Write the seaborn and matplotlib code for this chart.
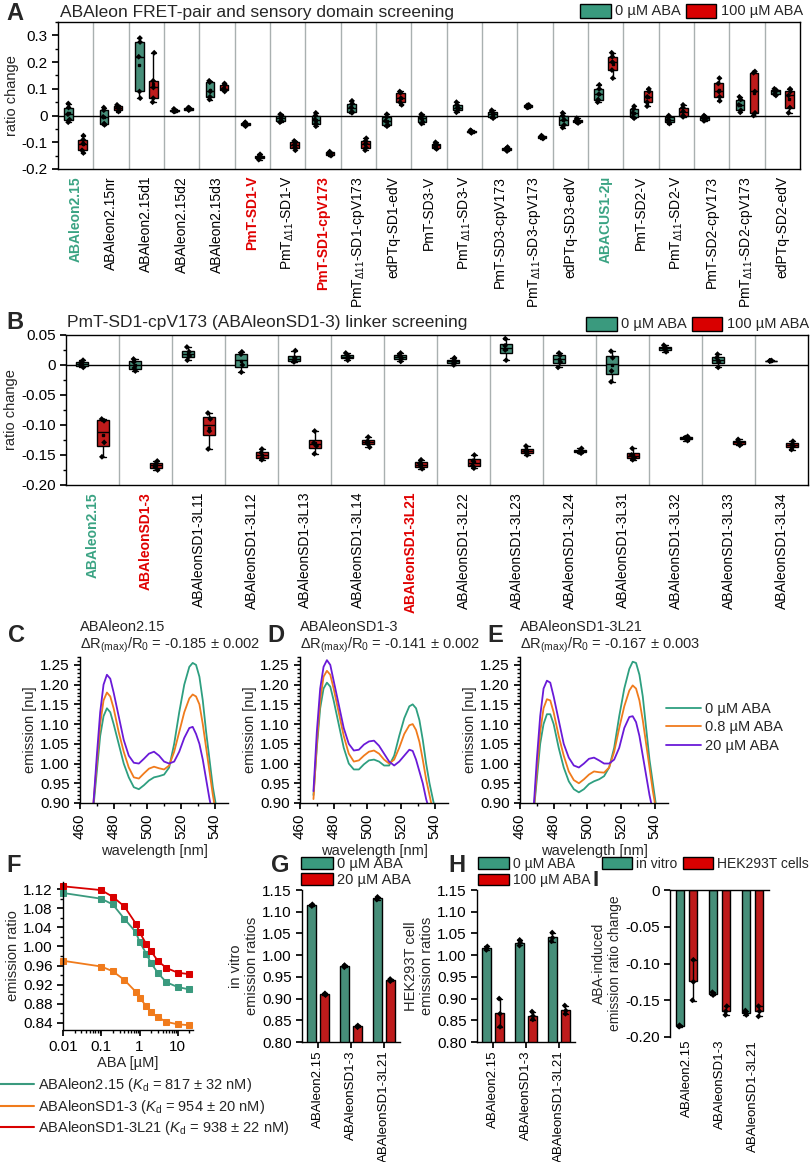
import numpy as np
import pandas as pd
import matplotlib.pyplot as plt
import seaborn as sns
from matplotlib.patches import Patch
from matplotlib.lines import Line2D
from matplotlib.ticker import MultipleLocator, FuncFormatter

# =========================
# STYLE
# =========================
sns.set_theme(style="ticks")
plt.rcParams["font.family"] = ["Liberation Sans", "DejaVu Sans"]
plt.rcParams["mathtext.fontset"] = "custom"
plt.rcParams["mathtext.rm"] = "Liberation Sans"
plt.rcParams["mathtext.it"] = "Liberation Sans:italic"
plt.rcParams["mathtext.bf"] = "Liberation Sans:bold"
plt.rcParams["axes.unicode_minus"] = False
plt.rcParams["axes.edgecolor"] = "black"
plt.rcParams["axes.linewidth"] = 1.0
plt.rcParams["xtick.color"] = "black"
plt.rcParams["ytick.color"] = "black"
plt.rcParams["xtick.major.size"] = 4
plt.rcParams["ytick.major.size"] = 4
plt.rcParams["xtick.minor.size"] = 2
plt.rcParams["ytick.minor.size"] = 2

GREEN = "#3a9a7e"
RED = "#d90000"
LBL_GREEN = "#3aa383"
LBL_RED = "#e00000"
SP_GREEN = "#2e9f80"
SP_ORANGE = "#f07b1c"
SP_PURPLE = "#6a1ad8"

# =========================
# DATA
# =========================
a_names = ["ABAleon2.15", "ABAleon2.15nr", "ABAleon2.15d1", "ABAleon2.15d2", "ABAleon2.15d3",
           "PmT-SD1-V", r"PmT$_{\Delta11}$-SD1-V", "PmT-SD1-cpV173", r"PmT$_{\Delta11}$-SD1-cpV173",
           "edPTq-SD1-edV", "PmT-SD3-V", r"PmT$_{\Delta11}$-SD3-V", "PmT-SD3-cpV173",
           r"PmT$_{\Delta11}$-SD3-cpV173", "edPTq-SD3-edV", "ABACUS1-2µ", "PmT-SD2-V",
           r"PmT$_{\Delta11}$-SD2-V", "PmT-SD2-cpV173", r"PmT$_{\Delta11}$-SD2-cpV173", "edPTq-SD2-edV"]
a_green_idx = [0, 15]
a_red_idx = [5, 7]

a_ctrl = [[0.045, 0.03, 0.005, -0.015, -0.025], [0.03, 0.02, -0.005, -0.03, -0.035],
          [0.29, 0.275, 0.22, 0.09, 0.065], [0.025, 0.02, 0.018, 0.016, 0.015],
          [0.13, 0.125, 0.09, 0.07, 0.06], [-0.025, -0.028, -0.032, -0.035, -0.04],
          [0.005, 0.0, -0.01, -0.02, -0.025], [0.01, 0.0, -0.015, -0.03, -0.04],
          [0.055, 0.045, 0.03, 0.015, 0.01], [0.005, -0.005, -0.02, -0.035, -0.04],
          [0.005, 0.0, -0.01, -0.025, -0.03], [0.05, 0.04, 0.03, 0.02, 0.012],
          [0.02, 0.015, 0.005, -0.005, -0.01], [0.04, 0.038, 0.035, 0.032, 0.03],
          [0.01, 0.0, -0.015, -0.035, -0.045], [0.115, 0.1, 0.08, 0.06, 0.05],
          [0.035, 0.025, 0.01, -0.005, -0.01], [0.0, -0.005, -0.015, -0.025, -0.03],
          [0.0, -0.005, -0.01, -0.015, -0.02], [0.07, 0.06, 0.04, 0.02, 0.012],
          [0.1, 0.095, 0.09, 0.08, 0.075]]
a_aba = [[-0.075, -0.09, -0.105, -0.13, -0.14], [0.04, 0.035, 0.03, 0.02, 0.015],
         [0.235, 0.13, 0.105, 0.065, 0.05], [0.03, 0.028, 0.025, 0.022, 0.02],
         [0.12, 0.115, 0.1, 0.095, 0.09], [-0.145, -0.15, -0.155, -0.16, -0.165],
         [-0.095, -0.1, -0.11, -0.12, -0.13], [-0.135, -0.138, -0.142, -0.146, -0.15],
         [-0.085, -0.095, -0.105, -0.12, -0.13], [0.09, 0.085, 0.065, 0.05, 0.04],
         [-0.1, -0.105, -0.11, -0.12, -0.125], [-0.055, -0.057, -0.06, -0.062, -0.065],
         [-0.118, -0.122, -0.125, -0.13, -0.133], [-0.075, -0.078, -0.08, -0.083, -0.086],
         [-0.01, -0.015, -0.02, -0.025, -0.028], [0.235, 0.22, 0.2, 0.17, 0.14],
         [0.1, 0.09, 0.07, 0.05, 0.035], [0.04, 0.03, 0.015, 0.0, -0.005],
         [0.14, 0.12, 0.09, 0.07, 0.055], [0.165, 0.16, 0.09, 0.01, 0.0],
         [0.1, 0.09, 0.075, 0.03, 0.01]]

b_names = ["ABAleon2.15", "ABAleonSD1-3", "ABAleonSD1-3L11", "ABAleonSD1-3L12", "ABAleonSD1-3L13",
           "ABAleonSD1-3L14", "ABAleonSD1-3L21", "ABAleonSD1-3L22", "ABAleonSD1-3L23",
           "ABAleonSD1-3L24", "ABAleonSD1-3L31", "ABAleonSD1-3L32", "ABAleonSD1-3L33", "ABAleonSD1-3L34"]
b_green_idx = [0]
b_red_idx = [1, 6]

b_ctrl = [[0.008, 0.004, 0.0, -0.004], [0.01, 0.005, -0.005, -0.01], [0.03, 0.022, 0.015, 0.008],
          [0.022, 0.018, 0.0, -0.012], [0.024, 0.012, 0.008, 0.005], [0.02, 0.015, 0.012, 0.008],
          [0.02, 0.016, 0.012, 0.006], [0.012, 0.008, 0.004, 0.0], [0.044, 0.032, 0.025, 0.008],
          [0.02, 0.016, 0.005, -0.004], [0.023, 0.012, -0.01, -0.028], [0.033, 0.029, 0.026, 0.022],
          [0.018, 0.012, 0.005, -0.004], [0.007, 0.0065, 0.0075, 0.007]]
b_aba = [[-0.09, -0.093, -0.129, -0.153], [-0.16, -0.165, -0.17, -0.175], [-0.08, -0.09, -0.11, -0.14],
         [-0.14, -0.146, -0.155, -0.158], [-0.11, -0.13, -0.135, -0.148], [-0.12, -0.127, -0.131, -0.137],
         [-0.158, -0.164, -0.168, -0.173], [-0.15, -0.16, -0.168, -0.172], [-0.135, -0.142, -0.146, -0.15],
         [-0.139, -0.142, -0.145, -0.147], [-0.139, -0.15, -0.155, -0.158], [-0.119, -0.121, -0.123, -0.126],
         [-0.124, -0.127, -0.13, -0.134], [-0.127, -0.132, -0.136, -0.141]]

# emission spectra (C, D, E)
wl = [468, 470, 472, 474, 476, 478, 480, 483, 486, 489, 492, 495, 498, 501, 504,
      507, 510, 513, 516, 519, 522, 525, 527, 529, 531, 533, 535, 537, 539, 541]
c_0 = [0.89, 0.98, 1.07, 1.12, 1.14, 1.13, 1.10, 1.05, 1.00, 0.965, 0.94, 0.935, 0.945, 0.957, 0.965,
       0.968, 0.972, 0.99, 1.05, 1.13, 1.20, 1.245, 1.255, 1.25, 1.22, 1.16, 1.08, 1.01, 0.94, 0.89]
c_08 = [0.90, 1.00, 1.10, 1.16, 1.18, 1.17, 1.14, 1.08, 1.03, 0.99, 0.965, 0.962, 0.975, 0.987, 0.992,
        0.988, 0.985, 0.995, 1.03, 1.08, 1.13, 1.165, 1.175, 1.17, 1.15, 1.10, 1.04, 0.98, 0.92, 0.87]
c_20 = [0.90, 1.02, 1.13, 1.20, 1.225, 1.215, 1.18, 1.12, 1.06, 1.02, 1.002, 1.0, 1.012, 1.025, 1.03,
        1.02, 1.005, 1.0, 1.005, 1.03, 1.065, 1.09, 1.093, 1.075, 1.05, 1.01, 0.96, 0.91, 0.87, 0.85]
d_0 = [0.92, 1.04, 1.14, 1.19, 1.205, 1.195, 1.16, 1.10, 1.04, 1.0, 0.985, 0.985, 0.998, 1.008, 1.01,
       1.005, 0.995, 0.995, 1.02, 1.07, 1.115, 1.145, 1.15, 1.14, 1.11, 1.06, 1.0, 0.95, 0.91, 0.87]
d_08 = [0.91, 1.05, 1.16, 1.22, 1.235, 1.225, 1.19, 1.13, 1.07, 1.025, 1.005, 1.008, 1.02, 1.03, 1.033,
        1.025, 1.01, 1.0, 1.01, 1.04, 1.075, 1.097, 1.10, 1.085, 1.055, 1.01, 0.96, 0.92, 0.88, 0.85]
d_20 = [0.93, 1.08, 1.19, 1.245, 1.262, 1.25, 1.21, 1.15, 1.09, 1.05, 1.033, 1.035, 1.048, 1.056, 1.058,
        1.045, 1.025, 1.005, 0.995, 1.005, 1.02, 1.035, 1.032, 1.01, 0.98, 0.95, 0.91, 0.88, 0.86, 0.85]
e_0 = [0.87, 0.96, 1.05, 1.10, 1.125, 1.125, 1.10, 1.04, 0.99, 0.955, 0.935, 0.927, 0.935, 0.948, 0.955,
       0.96, 0.968, 0.99, 1.04, 1.12, 1.19, 1.24, 1.258, 1.255, 1.225, 1.17, 1.09, 1.01, 0.95, 0.89]
e_08 = [0.87, 0.98, 1.08, 1.14, 1.163, 1.16, 1.13, 1.07, 1.02, 0.98, 0.958, 0.95, 0.96, 0.972, 0.98,
        0.978, 0.977, 0.99, 1.03, 1.09, 1.145, 1.185, 1.198, 1.19, 1.16, 1.11, 1.05, 0.99, 0.93, 0.88]
e_20 = [0.88, 1.01, 1.12, 1.19, 1.21, 1.205, 1.17, 1.11, 1.05, 1.015, 0.995, 0.99, 1.0, 1.012, 1.015,
        1.008, 1.0, 1.0, 1.01, 1.04, 1.09, 1.118, 1.12, 1.105, 1.07, 1.02, 0.97, 0.92, 0.88, 0.85]
spec_labels = ["0 µM ABA", "0.8 µM ABA", "20 µM ABA"]

# titration (F)
f_conc = [0.01, 0.1, 0.2, 0.4, 0.8, 1, 1.5, 2, 3, 5, 10, 20]
f_215 = [1.112, 1.100, 1.088, 1.058, 1.030, 1.010, 0.985, 0.965, 0.945, 0.925, 0.915, 0.910]
f_sd13 = [0.970, 0.958, 0.948, 0.930, 0.905, 0.893, 0.875, 0.862, 0.852, 0.842, 0.837, 0.835]
f_l21 = [1.126, 1.118, 1.104, 1.084, 1.048, 1.030, 1.005, 0.990, 0.970, 0.955, 0.945, 0.942]
f_labels = [r"ABAleon2.15 ($K_\mathrm{d}$ = 817 ± 32 nM)",
            r"ABAleonSD1-3 ($K_\mathrm{d}$ = 954 ± 20 nM)",
            r"ABAleonSD1-3L21 ($K_\mathrm{d}$ = 938 ± 22 nM)"]

# bar panels (G, H, I)
g_groups = ["ABAleon2.15", "ABAleonSD1-3", "ABAleonSD1-3L21"]
g_ctrl = [[1.113, 1.115, 1.117], [0.972, 0.975, 0.977], [1.128, 1.131, 1.134]]
g_aba = [[0.908, 0.910, 0.912], [0.834, 0.836, 0.838], [0.940, 0.942, 0.945]]
h_ctrl = [[1.012, 1.016, 1.020], [1.022, 1.030, 1.035], [1.032, 1.040, 1.052]]
h_aba = [[0.835, 0.865, 0.900], [0.852, 0.860, 0.870], [0.865, 0.872, 0.884]]
i_vitro = [[-0.184, -0.185, -0.186], [-0.139, -0.141, -0.143], [-0.164, -0.167, -0.170]]
i_hek = [[-0.095, -0.125, -0.150], [-0.158, -0.165, -0.170], [-0.158, -0.165, -0.172]]


def long_df(ctrl, aba, lab0, lab1):
    rows = []
    for i, (c, a) in enumerate(zip(ctrl, aba)):
        for v in c:
            rows.append((i, lab0, v))
        for v in a:
            rows.append((i, lab1, v))
    return pd.DataFrame(rows, columns=["idx", "cond", "value"])


# =========================
# FIGURE
# =========================
W, H = 810, 1162
fig = plt.figure(figsize=(W / 100, H / 100), dpi=100)


def axes_px(l, t, r, b):
    return fig.add_axes([l / W, 1 - b / H, (r - l) / W, (b - t) / H])


def ftext(x, y, s, **kw):
    kw.setdefault("va", "center")
    fig.text(x / W, 1 - y / H, s, **kw)


def zero_fmt(dec):
    return FuncFormatter(lambda v, p: "0" if abs(v) < 1e-9 else f"{v:.{dec}f}")


def screening_panel(ax, df, names, green_idx, red_idx, ylim, major, minor, dec):
    pal = {"0 µM ABA": GREEN, "100 µM ABA": RED}
    for i in range(1, len(names)):
        ax.axvline(i - 0.5, color="#a9b0b0", lw=1, zorder=0)
    ax.axhline(0, color="black", lw=1, zorder=1)
    sns.boxplot(data=df, x="idx", y="value", hue="cond", palette=pal, whis=(0, 100),
                width=0.8, gap=0.4, showfliers=False, linecolor="black", linewidth=1,
                showmeans=True, meanprops=dict(marker="s", markersize=1.5, markerfacecolor="black",
                                               markeredgecolor="black"),
                ax=ax, legend=False)
    sns.stripplot(data=df, x="idx", y="value", hue="cond", dodge=True,
                  palette={"0 µM ABA": "black", "100 µM ABA": "black"}, marker="D", size=3,
                  jitter=0.06, ax=ax, legend=False, zorder=5)
    ax.set_xlim(-0.5, len(names) - 0.5)
    ax.set_ylim(*ylim)
    ax.set_yticks(major)
    ax.yaxis.set_minor_locator(MultipleLocator(minor))
    ax.yaxis.set_major_formatter(zero_fmt(dec))
    ax.set_xticks(range(len(names)))
    ax.set_xticklabels(names, rotation=90, fontsize=10)
    ax.tick_params(axis="x", length=0, pad=5)
    ax.tick_params(axis="y", labelsize=11)
    for i, t in enumerate(ax.get_xticklabels()):
        if i in green_idx:
            t.set_color(LBL_GREEN)
            t.set_fontweight("bold")
        elif i in red_idx:
            t.set_color(LBL_RED)
            t.set_fontweight("bold")
    ax.set_xlabel("")
    ax.set_ylabel("ratio change", fontsize=10.5, labelpad=2)


leg_handles = [Patch(facecolor=GREEN, edgecolor="black", label="0 µM ABA"),
               Patch(facecolor=RED, edgecolor="black", label="100 µM ABA")]
leg_kw = dict(frameon=False, fontsize=10.5, handlelength=2.1, handleheight=1.1, columnspacing=0.35,
              handletextpad=0.3, borderpad=0, borderaxespad=0)

# ---- A ----
axA = axes_px(58, 22, 800, 169)
screening_panel(axA, long_df(a_ctrl, a_aba, "0 µM ABA", "100 µM ABA"), a_names,
                a_green_idx, a_red_idx, (-0.2, 0.35), [-0.2, -0.1, 0, 0.1, 0.2, 0.3], 0.05, 1)
ftext(6, 13, "A", fontsize=17, fontweight="bold")
ftext(60, 13, "ABAleon FRET-pair and sensory domain screening", fontsize=12.5)
fig.legend(handles=leg_handles, loc="center right", bbox_to_anchor=(803 / W, 1 - 11 / H), ncol=2,
           **leg_kw)

# ---- B ----
axB = axes_px(66, 335, 808, 485)
screening_panel(axB, long_df(b_ctrl, b_aba, "0 µM ABA", "100 µM ABA"), b_names,
                b_green_idx, b_red_idx, (-0.2, 0.05), [-0.2, -0.15, -0.1, -0.05, 0, 0.05], 0.025, 2)
ftext(6, 323, "B", fontsize=17, fontweight="bold")
ftext(67, 323, "PmT-SD1-cpV173 (ABAleonSD1-3) linker screening", fontsize=12.5)
fig.legend(handles=leg_handles, loc="center right", bbox_to_anchor=(809 / W, 1 - 324 / H), ncol=2,
           **leg_kw)

# ---- C, D, E ----
spec_sets = [("C", 80, "ABAleon2.15", "-0.185 ± 0.002", [c_0, c_08, c_20]),
             ("D", 300, "ABAleonSD1-3", "-0.141 ± 0.002", [d_0, d_08, d_20]),
             ("E", 520, "ABAleonSD1-3L21", "-0.167 ± 0.003", [e_0, e_08, e_20])]
for letter, left, name, dr, curves in spec_sets:
    ax = axes_px(left, 657, left + 148, 803)
    for vals, col, lab in zip(curves, [SP_GREEN, SP_ORANGE, SP_PURPLE], spec_labels):
        sns.lineplot(x=wl, y=vals, color=col, lw=1.3, ax=ax, label=lab, legend=False)
    ax.set_xlim(460, 548)
    ax.set_ylim(0.90, 1.27)
    ax.set_xticks([460, 480, 500, 520, 540])
    ax.xaxis.set_minor_locator(MultipleLocator(10))
    ax.set_yticks(np.arange(0.90, 1.26, 0.05))
    ax.yaxis.set_minor_locator(MultipleLocator(0.01))
    ax.yaxis.set_major_formatter(FuncFormatter(lambda v, p: f"{v:.2f}"))
    ax.tick_params(axis="x", rotation=90, labelsize=11)
    ax.tick_params(axis="y", labelsize=11)
    ax.set_xlabel("wavelength [nm]", fontsize=10.5)
    ax.set_ylabel("emission [nu]", fontsize=10.5, labelpad=2)
    sns.despine(ax=ax)
    ftext(left - 72 if letter == "C" else left - 33, 636, letter, fontsize=17, fontweight="bold")
    ftext(left, 627, name, fontsize=10.5)
    ftext(left, 645, r"$\Delta$R$_{\mathrm{(max)}}$/R$_0$ = " + dr, fontsize=10.5)
    spec_ax = ax

fig.legend(handles=spec_ax.get_lines()[:3], labels=spec_labels, loc="upper left",
           bbox_to_anchor=(666 / W, 1 - 702 / H), frameon=False, fontsize=10.5,
           handlelength=2.4, handletextpad=0.3, labelspacing=0.3, borderpad=0, borderaxespad=0)

# ---- F ----
axF = axes_px(63, 882, 193, 1030)
for vals, col in zip([f_215, f_sd13, f_l21], [GREEN, SP_ORANGE, RED]):
    sns.lineplot(x=f_conc, y=vals, color=col, lw=1.3, marker="s", markersize=4.5,
                 markeredgecolor=col, ax=axF, clip_on=False)
axF.set_xscale("log")
axF.set_xlim(0.01, 25)
axF.set_ylim(0.825, 1.135)
axF.set_xticks([0.01, 0.1, 1, 10])
axF.set_xticklabels(["0.01", "0.1", "1", "10"])
axF.set_yticks(np.arange(0.84, 1.121, 0.04))
axF.yaxis.set_major_formatter(FuncFormatter(lambda v, p: f"{v:.2f}"))
axF.yaxis.set_minor_locator(MultipleLocator(0.02))
axF.tick_params(labelsize=11)
axF.set_xlabel("ABA [µM]", fontsize=10.5, labelpad=1)
axF.set_ylabel("emission ratio", fontsize=10.5, labelpad=2)
sns.despine(ax=axF)
ftext(6, 866, "F", fontsize=17, fontweight="bold")
f_handles = [Line2D([], [], color=c, lw=1.5) for c in [GREEN, SP_ORANGE, RED]]
fig.legend(handles=f_handles, labels=f_labels, loc="upper left", bbox_to_anchor=(0, 1 - 1076 / H),
           frameon=False, fontsize=10.5, handlelength=2.3, handletextpad=0.3, labelspacing=0.25,
           borderpad=0, borderaxespad=0)


# ---- G, H, I ----
def bar_panel(ax, df, labs, cols, ylim, gap):
    pal = dict(zip(labs, cols))
    sns.barplot(data=df, x="idx", y="value", hue="cond", palette=pal, errorbar="sd", capsize=0.3,
                err_kws={"color": "black", "linewidth": 1}, edgecolor="black", linewidth=1,
                width=0.8, gap=gap, ax=ax, legend=False)
    sns.stripplot(data=df, x="idx", y="value", hue="cond", dodge=True,
                  palette=dict(zip(labs, ["black", "black"])), marker="D", size=3, jitter=0.05,
                  ax=ax, legend=False, zorder=5)
    ax.set_xlim(-0.5, 2.5)
    ax.set_ylim(*ylim)
    ax.set_xticks(range(3))
    ax.set_xticklabels(g_groups, rotation=90, fontsize=9.5)
    ax.tick_params(axis="x", pad=2)
    ax.tick_params(axis="y", labelsize=11)
    ax.set_xlabel("")


small_leg = dict(frameon=False, fontsize=10.5, handlelength=2.2, handleheight=0.9, handletextpad=0.3,
                 labelspacing=0.15, columnspacing=0.35, borderpad=0, borderaxespad=0)

axG = axes_px(302, 890, 400, 1042)
bar_panel(axG, long_df(g_ctrl, g_aba, "0 µM ABA", "20 µM ABA"), ["0 µM ABA", "20 µM ABA"],
          [GREEN, RED], (0.8, 1.15), 0.3)
axG.set_yticks(np.arange(0.80, 1.151, 0.05))
axG.yaxis.set_major_formatter(FuncFormatter(lambda v, p: f"{v:.2f}"))
axG.set_ylabel("in vitro\nemission ratios", fontsize=10.5, labelpad=2)
sns.despine(ax=axG)
ftext(271, 866, "G", fontsize=17, fontweight="bold")
fig.legend(handles=[Patch(facecolor=GREEN, edgecolor="black", label="0 µM ABA"),
                    Patch(facecolor=RED, edgecolor="black", label="20 µM ABA")],
           loc="upper left", bbox_to_anchor=(301 / W, 1 - 857 / H), **small_leg)

axH = axes_px(477, 890, 575, 1042)
bar_panel(axH, long_df(h_ctrl, h_aba, "0 µM ABA", "100 µM ABA"), ["0 µM ABA", "100 µM ABA"],
          [GREEN, RED], (0.8, 1.15), 0.3)
axH.set_yticks(np.arange(0.80, 1.151, 0.05))
axH.yaxis.set_major_formatter(FuncFormatter(lambda v, p: f"{v:.2f}"))
axH.set_ylabel("HEK293T cell\nemission ratios", fontsize=10.5, labelpad=2)
sns.despine(ax=axH)
ftext(448, 866, "H", fontsize=17, fontweight="bold")
fig.legend(handles=leg_handles, loc="upper left", bbox_to_anchor=(478 / W, 1 - 857 / H),
           **{**small_leg, "fontsize": 10})

axI = axes_px(670, 890, 769, 1037)
bar_panel(axI, long_df(i_vitro, i_hek, "in vitro", "HEK293T cells"), ["in vitro", "HEK293T cells"],
          [GREEN, RED], (-0.2, 0), 0.4)
axI.set_yticks([-0.2, -0.15, -0.1, -0.05, 0])
axI.yaxis.set_major_formatter(zero_fmt(2))
axI.set_ylabel("ABA-induced\nemission ratio change", fontsize=10, labelpad=2)
axI.spines["right"].set_visible(False)
axI.spines["bottom"].set_visible(False)
axI.tick_params(axis="x", length=0)
ftext(593, 880, "I", fontsize=16, fontweight="bold")
fig.legend(handles=[Patch(facecolor=GREEN, edgecolor="black", label="in vitro"),
                    Patch(facecolor=RED, edgecolor="black", label="HEK293T cells")],
           loc="upper right", bbox_to_anchor=(809 / W, 1 - 857 / H), ncol=2,
           **{**small_leg, "fontsize": 10})

fig.savefig("out.png", dpi=100)
